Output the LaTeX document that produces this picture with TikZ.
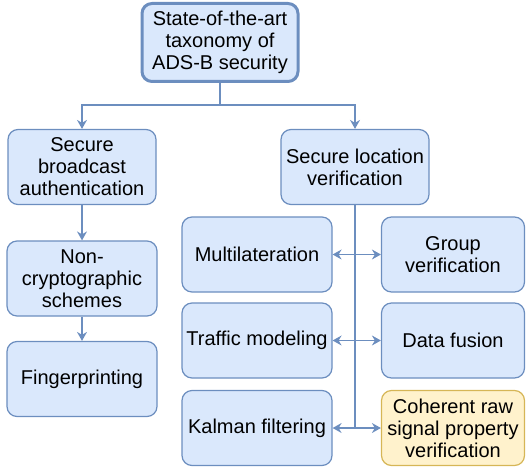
\documentclass[tikz,border=0pt]{standalone}
\usepackage{fontspec}
\setmainfont{Liberation Sans}
\usetikzlibrary{arrows.meta}
\definecolor{bfill}{HTML}{DAE8FC}
\definecolor{bdraw}{HTML}{6C8EBF}
\definecolor{yfill}{HTML}{FFF2CC}
\definecolor{ydraw}{HTML}{D6B656}
\tikzset{
  box/.style={draw=bdraw, fill=bfill, line width=1.2pt, rounded corners=10pt,
    align=center, inner sep=2pt, font=\fontsize{20}{22}\selectfont,
    minimum width=#1, minimum height=75pt},
  box/.default=150pt,
  topbox/.style={box=156pt, line width=3pt, minimum height=78pt},
  ybox/.style={box=#1, draw=ydraw, fill=yfill},
  conn/.style={draw=bdraw, line width=1.4pt},
  arr/.style={conn, -{Stealth[length=9pt,width=10pt,inset=3pt]}}
}
\begin{document}
\begin{tikzpicture}[x=1pt,y=-1pt]
\useasboundingbox (0,0) rectangle (526,468);
\node[topbox] (top) at (220,42.5) {State-of-the-art\\taxonomy of\\ADS-B security};
\node[box=148pt] (sba) at (82,167) {Secure\\broadcast\\authentication};
\node[box=148pt] (slv) at (355,167) {Secure location\\verification};
\node[box] (nc) at (82,278.5) {Non-\\cryptographic\\schemes};
\node[box] (fp) at (82,379) {Fingerprinting};
\node[box] (ml) at (257,254.5) {Multilateration};
\node[box] (tm) at (257,340.5) {Traffic modeling};
\node[box] (kf) at (257,428) {Kalman filtering};
\node[box=143pt] (gv) at (453,254.5) {Group\\verification};
\node[box=143pt] (df) at (453,340.5) {Data fusion};
\node[ybox=143pt] (cr) at (453,428) {Coherent raw\\signal property\\verification};
\coordinate (split) at (220,105);
\draw[arr] (top.south) -- (split) -| (sba.north);
\draw[arr] (split) -| (slv.north);
\draw[arr] (sba) -- (nc);
\draw[arr] (nc) -- (fp);
\coordinate (j1) at (slv.south |- ml.east);
\coordinate (j2) at (slv.south |- tm.east);
\coordinate (j3) at (slv.south |- kf.east);
\draw[conn] (slv.south) -- (j3);
\draw[arr] (j1) -- (ml.east);
\draw[arr] (j1) -- (gv.west);
\draw[arr] (j2) -- (tm.east);
\draw[arr] (j2) -- (df.west);
\draw[arr] (j3) -- (kf.east);
\draw[arr] (j3) -- (cr.west);
\end{tikzpicture}
\end{document}
